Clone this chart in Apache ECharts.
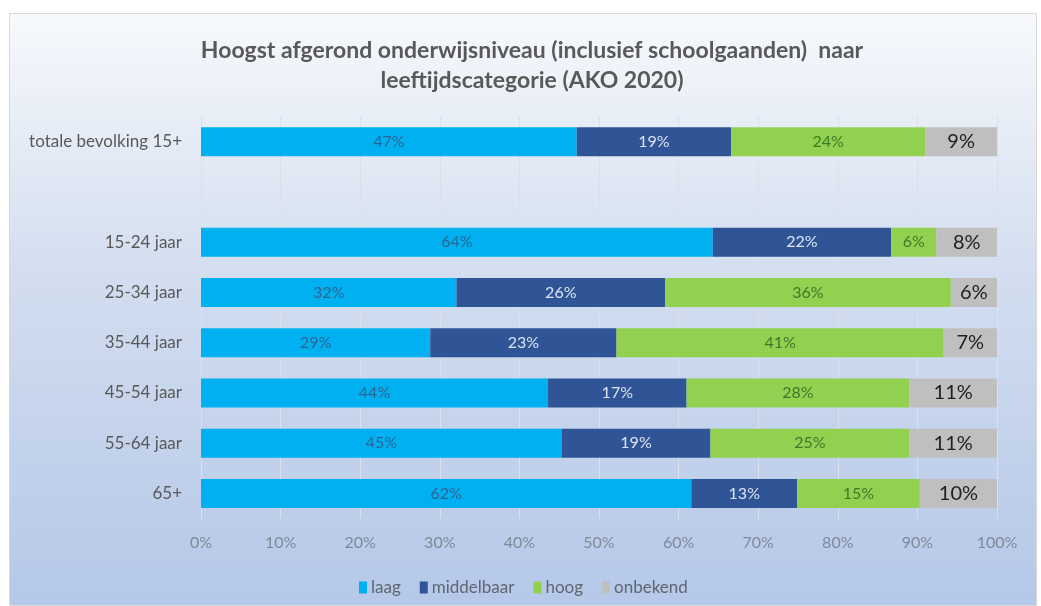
<!DOCTYPE html>
<html>
<head>
<meta charset="utf-8">
<script src="https://cdn.jsdelivr.net/npm/echarts@6/dist/echarts.min.js"></script>
<style>
html,body{margin:0;padding:0;background:#ffffff;}
#c{width:1041px;height:606px;}
</style>
</head>
<body>
<div id="c"></div>
<script>
var categories = ['totale bevolking 15+', '', '15-24 jaar', '25-34 jaar', '35-44 jaar', '45-54 jaar', '55-64 jaar', '65+'];
var seriesNames = ['laag', 'middelbaar', 'hoog', 'onbekend'];
var laag       = [47.2, null, 64.3, 32.1, 28.8, 43.6, 45.3, 61.6];
var middelbaar = [19.4, null, 22.4, 26.2, 23.4, 17.4, 18.7, 13.3];
var hoog       = [24.4, null, 5.7, 35.9, 41.1, 28.0, 25.0, 15.4];
var onbekend   = [9.0, null, 7.6, 5.8, 6.7, 11.0, 11.0, 9.7];
var xTicks = [0, 10, 20, 30, 40, 50, 60, 70, 80, 90, 100];

var FONT = 'Lato';
var colors = ['#00b0f0', '#2f5597', '#92d050', '#bfbfbf'];
var labelColors = ['#2d6592', '#dce4f2', '#3a7a28', '#1f1f1f'];
var labelSizes = [16, 16, 16, 20];
var dataSets = [laag, middelbaar, hoog, onbekend];

var chart = echarts.init(document.getElementById('c'), null, {renderer: 'canvas'});
var series = seriesNames.map(function (name, i) {
  return {
    name: name,
    type: 'bar',
    stack: 'total',
    barWidth: 29,
    itemStyle: {color: colors[i]},
    label: {
      show: true,
      position: 'inside',
      color: labelColors[i],
      fontFamily: FONT,
      fontSize: labelSizes[i],
      formatter: function (p) { return p.value == null ? '' : Math.round(p.value) + '%'; }
    },
    data: dataSets[i]
  };
});

chart.setOption({
  animation: false,
  textStyle: {fontFamily: FONT},
  graphic: [{
    type: 'rect',
    z: -10,
    silent: true,
    shape: {x: 9.5, y: 13.5, width: 1027, height: 592},
    style: {
      fill: new echarts.graphic.LinearGradient(0, 0, 0, 1, [
        {offset: 0, color: '#f7f9fc'},
        {offset: 0.45, color: '#d2ddef'},
        {offset: 1, color: '#b5c8e8'}
      ]),
      stroke: '#d9d9d9',
      lineWidth: 1
    }
  }],
  title: {
    text: 'Hoogst afgerond onderwijsniveau (inclusief schoolgaanden)  naar\nleeftijdscategorie (AKO 2020)',
    left: 527,
    textAlign: 'center',
    top: 31,
    textStyle: {
      fontFamily: FONT,
      fontWeight: 'bold',
      fontSize: 23,
      lineHeight: 30,
      color: '#595959'
    }
  },
  legend: {
    data: seriesNames,
    left: 354,
    top: 574,
    itemWidth: 8,
    itemHeight: 12,
    itemGap: 19,
    icon: 'rect',
    textStyle: {fontFamily: FONT, fontSize: 17, color: '#5f6670', padding: [0, 0, 0, -1]}
  },
  grid: {left: 201, right: 44, top: 116.5, bottom: 87.5, containLabel: false},
  xAxis: {
    type: 'value',
    min: 0,
    max: 100,
    interval: 10,
    axisLine: {show: false},
    axisTick: {show: false},
    axisLabel: {
      fontFamily: FONT,
      fontSize: 16,
      color: '#7f8899',
      margin: 16,
      formatter: function (v) { return xTicks.indexOf(v) >= 0 ? v + '%' : ''; }
    },
    splitLine: {show: true, lineStyle: {color: '#dbe1eb', width: 1}}
  },
  yAxis: {
    type: 'category',
    inverse: true,
    data: categories,
    axisLine: {show: false},
    axisTick: {show: false},
    axisLabel: {fontFamily: FONT, fontSize: 17, color: '#595959', margin: 19}
  },
  series: series
});
</script>
</body>
</html>
